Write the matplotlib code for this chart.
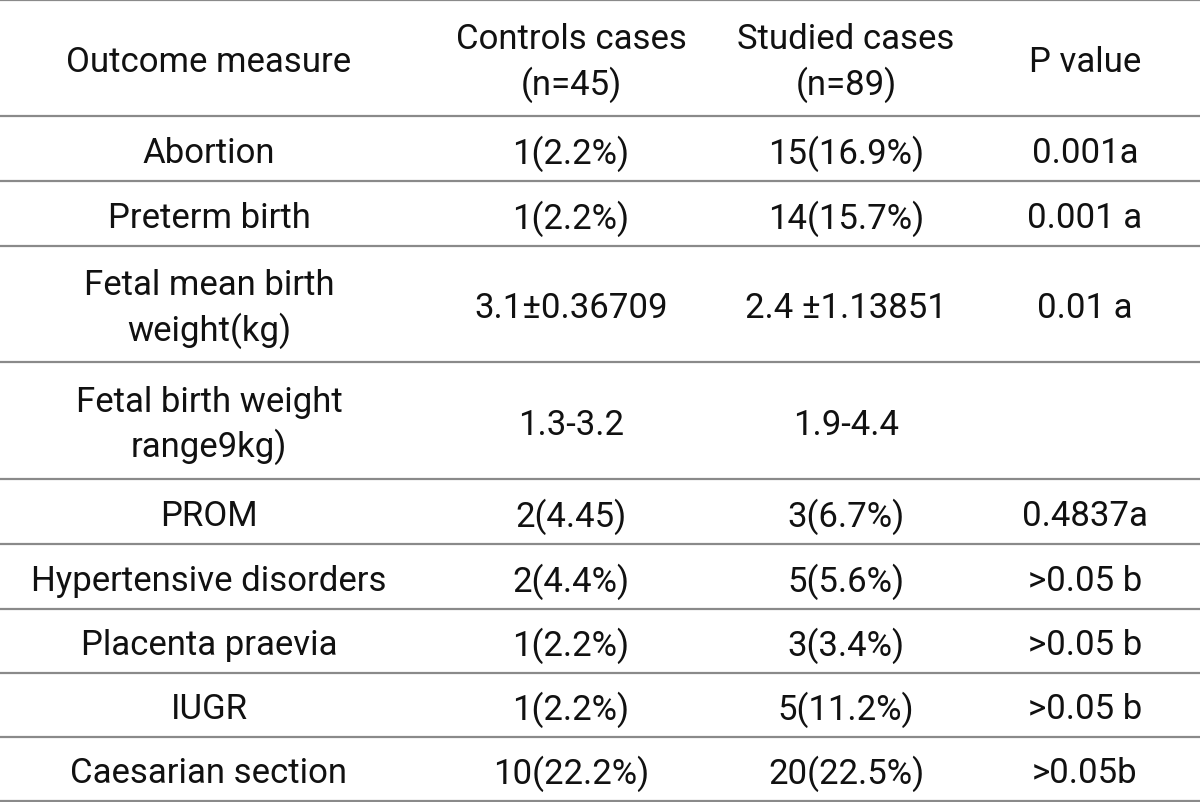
import matplotlib
matplotlib.use("Agg")
import matplotlib.pyplot as plt

headers = ["Outcome measure", "Controls cases\n(n=45)", "Studied cases\n(n=89)", "P value"]
measures = ["Abortion", "Preterm birth", "Fetal mean birth\nweight(kg)", "Fetal birth weight\nrange9kg)",
            "PROM", "Hypertensive disorders", "Placenta praevia", "IUGR", "Caesarian section"]
controls = ["1(2.2%)", "1(2.2%)", "3.1±0.36709", "1.3-3.2", "2(4.45)", "2(4.4%)", "1(2.2%)", "1(2.2%)", "10(22.2%)"]
studied = ["15(16.9%)", "14(15.7%)", "2.4 ±1.13851", "1.9-4.4", "3(6.7%)", "5(5.6%)", "3(3.4%)", "5(11.2%)", "20(22.5%)"]
pvalues = ["0.001a", "0.001 a", "0.01 a", "", "0.4837a", ">0.05 b", ">0.05 b", ">0.05 b", ">0.05b"]

# layout (pixels)
row_edges = [1, 117, 182, 247, 363, 480, 545, 610, 674, 738, 802]
col_centers = [209, 571, 846, 1085]

fig = plt.figure(figsize=(12, 8.03), dpi=100)
ax = fig.add_axes([0, 0, 1, 1])
ax.set_xlim(0, 1200)
ax.set_ylim(803, 0)
ax.axis("off")

ax.hlines(row_edges, 0, 1200, colors="#8a8a8a", linewidth=1.6)

fam = ["Roboto", "DejaVu Sans"]
fs = 25
rows = [headers] + [[m, c, s, p] for m, c, s, p in zip(measures, controls, studied, pvalues)]
for i, row in enumerate(rows):
    yc = (row_edges[i] + row_edges[i + 1]) / 2 + 4
    for j, txt in enumerate(row):
        ax.text(col_centers[j], yc, txt, ha="center", va="center", fontsize=fs,
                family=fam, color="#111111", linespacing=1.35)

fig.savefig("out.png", dpi=100, facecolor="white")
